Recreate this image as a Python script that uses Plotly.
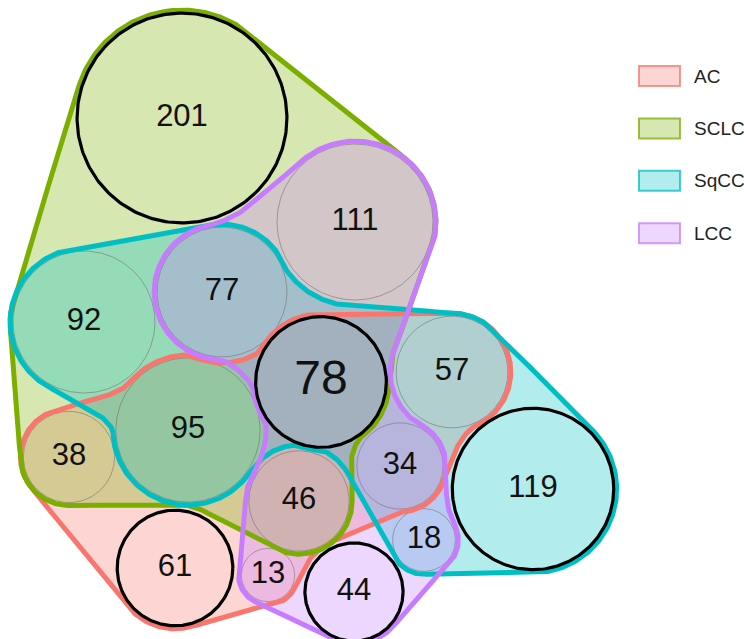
import numpy as np
import plotly.graph_objects as go

# ---------------------------------------------------------------- data
SETS = ["AC", "SCLC", "SqCC", "LCC"]

# every region of the four-set diagram: the sets it belongs to and its size
REGION_SETS = [
    "AC", "SCLC", "SqCC", "LCC",
    "AC SCLC", "AC SqCC", "AC LCC", "SCLC SqCC", "SCLC LCC", "SqCC LCC",
    "AC SCLC SqCC", "AC SCLC LCC", "AC SqCC LCC", "SCLC SqCC LCC",
    "AC SCLC SqCC LCC",
]
REGION_COUNTS = [61, 201, 119, 44, 38, 57, 13, 92, 111, 18, 95, 46, 34, 77, 78]

# ---------------------------------------------------------------- layout
# bubble centres on the canvas (pixels, y pointing down)
BUBBLE_X = [175, 182, 533, 354, 69, 452, 268, 84, 355, 424, 188, 299, 400, 222, 321]
BUBBLE_Y = [568, 118, 489, 592, 457, 372, 575, 322, 222, 540, 430, 501, 466, 292, 382]

W, H = 744, 639
RADIUS_SCALE = 7.4          # bubble radius = scale * sqrt(count)
MEMBER_PAD = 3.0            # outline distance outside member bubbles
OUTSIDER_PAD = 6.0          # outline distance outside excluded bubbles
SET_COLORS = {"AC": "#F8766D", "SCLC": "#7CAE00", "SqCC": "#00BFC4", "LCC": "#C77CFF"}
FILL_ALPHA = 0.3
FONT = "Arial, Liberation Sans, sans-serif"


def rgba(hex_color, a):
    h = hex_color.lstrip("#")
    r, g, b = int(h[0:2], 16), int(h[2:4], 16), int(h[4:6], 16)
    return f"rgba({r},{g},{b},{a})"


counts = np.array(REGION_COUNTS, dtype=float)
radii = RADIUS_SCALE * np.sqrt(counts)
cx = np.array(BUBBLE_X, dtype=float)
cy = np.array(BUBBLE_Y, dtype=float)
members = [s.split() for s in REGION_SETS]
n_regions = len(REGION_COUNTS)

# ---------------------------------------------------------------- set outlines
# 1) a first outline per set: convex hull of its bubbles with the other
#    bubbles carved out; 2) that outline is pulled taut like a rope that may
#    not cross any bubble.
STEP = 2.0
gx = np.arange(-40.0, 720.0, STEP)
gy = np.arange(-40.0, 720.0, STEP)
GX, GY = np.meshgrid(gx, gy)
circle_sdf = [np.hypot(GX - cx[i], GY - cy[i]) - radii[i] for i in range(n_regions)]


def smin(a, b, k):
    h = np.clip(0.5 + 0.5 * (b - a) / k, 0.0, 1.0)
    return b * (1 - h) + a * h - k * h * (1 - h)


def smax(a, b, k):
    return -smin(-a, -b, k)


def convex_hull(points):
    pts = sorted(set(points))

    def cross(o, a, b):
        return (a[0] - o[0]) * (b[1] - o[1]) - (a[1] - o[1]) * (b[0] - o[0])

    lower, upper = [], []
    for p in pts:
        while len(lower) >= 2 and cross(lower[-2], lower[-1], p) <= 0:
            lower.pop()
        lower.append(p)
    for p in reversed(pts):
        while len(upper) >= 2 and cross(upper[-2], upper[-1], p) <= 0:
            upper.pop()
        upper.append(p)
    return lower[:-1] + upper[:-1]


def hull_sdf(poly):
    dmin = np.full(GX.shape, np.inf)
    inside = np.ones(GX.shape, dtype=bool)
    m = len(poly)
    for k in range(m):
        ax, ay = poly[k]
        bx, by = poly[(k + 1) % m]
        ex, ey = bx - ax, by - ay
        px, py = GX - ax, GY - ay
        t = np.clip((px * ex + py * ey) / max(ex * ex + ey * ey, 1e-9), 0.0, 1.0)
        dmin = np.minimum(dmin, np.hypot(px - t * ex, py - t * ey))
        inside &= (ex * py - ey * px) >= 0
    return np.where(inside, -dmin, dmin)


def initial_field(mem, non):
    th = np.linspace(0, 2 * np.pi, 144, endpoint=False)
    pts = []
    for i in mem:
        rr = radii[i] + MEMBER_PAD
        pts += [(float(x), float(y)) for x, y in zip(cx[i] + rr * np.cos(th), cy[i] + rr * np.sin(th))]
    d_hull = hull_sdf(convex_hull(pts))
    d_mem = np.min([circle_sdf[i] for i in mem], axis=0) - MEMBER_PAD
    d_non = np.min([circle_sdf[i] for i in non], axis=0) - OUTSIDER_PAD
    return smin(smax(d_hull, -d_non, 4.0), d_mem, 6.0)


def contour_loops(F):
    ins = F < 0

    def edge_point(key):
        kind, i, j = key
        if kind == "h":
            f0, f1 = F[j, i], F[j, i + 1]
            t = f0 / (f0 - f1)
            return gx[i] + t * (gx[i + 1] - gx[i]), gy[j]
        f0, f1 = F[j, i], F[j + 1, i]
        t = f0 / (f0 - f1)
        return gx[i], gy[j] + t * (gy[j + 1] - gy[j])

    code = (ins[:-1, :-1].astype(int) | (ins[:-1, 1:] << 1)
            | (ins[1:, 1:] << 2) | (ins[1:, :-1] << 3))
    js, iis = np.nonzero((code != 0) & (code != 15))
    segs, adj = [], {}
    for j, i in zip(js.tolist(), iis.tolist()):
        bl, br, tr, tl = ins[j, i], ins[j, i + 1], ins[j + 1, i + 1], ins[j + 1, i]
        eb, et = ("h", i, j), ("h", i, j + 1)
        el, er = ("v", i, j), ("v", i + 1, j)
        crossing = [e for e, c in ((eb, bl != br), (er, br != tr), (et, tr != tl), (el, tl != bl)) if c]
        if len(crossing) == 2:
            pairs = [tuple(crossing)]
        else:
            centre_in = (F[j, i] + F[j, i + 1] + F[j + 1, i + 1] + F[j + 1, i]) / 4 < 0
            corners = [(bl, eb, el), (br, eb, er), (tr, er, et), (tl, et, el)]
            pairs = [(a, b) for flag, a, b in corners if flag != centre_in]
        for a, b in pairs:
            idx = len(segs)
            segs.append((a, b))
            adj.setdefault(a, []).append(idx)
            adj.setdefault(b, []).append(idx)
    used = [False] * len(segs)
    loops = []
    for s0 in range(len(segs)):
        if used[s0]:
            continue
        used[s0] = True
        start, cur = segs[s0]
        keys = [start, cur]
        while cur != start:
            nxt = next((s for s in adj[cur] if not used[s]), None)
            if nxt is None:
                break
            used[nxt] = True
            a, b = segs[nxt]
            cur = b if a == cur else a
            keys.append(cur)
        pts = np.array([edge_point(k) for k in keys[:-1]])
        area = 0.5 * abs(np.dot(pts[:, 0], np.roll(pts[:, 1], -1)) - np.dot(np.roll(pts[:, 0], -1), pts[:, 1]))
        loops.append((area, pts))
    loops.sort(key=lambda t: -t[0])
    return loops[0][1]


def resample(P, spacing):
    Q = np.vstack([P, P[:1]])
    seg = np.hypot(*np.diff(Q, axis=0).T)
    s = np.concatenate([[0.0], np.cumsum(seg)])
    n = max(int(s[-1] / spacing), 24)
    t = np.linspace(0.0, s[-1], n, endpoint=False)
    return np.stack([np.interp(t, s, Q[:, 0]), np.interp(t, s, Q[:, 1])], axis=1)


def pull_taut(P, obst_x, obst_y, obst_r, spacing, iters):
    P = resample(P, spacing)
    for it in range(iters):
        avg = 0.5 * (np.roll(P, 1, axis=0) + np.roll(P, -1, axis=0))
        P = P + 0.5 * (avg - P)
        for ox, oy, orad in zip(obst_x, obst_y, obst_r):
            dx = P[:, 0] - ox
            dy = P[:, 1] - oy
            d = np.hypot(dx, dy)
            hit = d < orad
            if hit.any():
                f = orad / np.maximum(d[hit], 1e-6)
                P[hit, 0] = ox + dx[hit] * f
                P[hit, 1] = oy + dy[hit] * f
        if it % 5 == 4:
            P = resample(P, spacing)
    return P


def chaikin(P, rounds=2):
    for _ in range(rounds):
        Q = np.roll(P, -1, axis=0)
        P = np.stack([0.75 * P + 0.25 * Q, 0.25 * P + 0.75 * Q], axis=1).reshape(-1, 2)
    return P


outlines = {}
for s in SETS:
    mem = [i for i in range(n_regions) if s in members[i]]
    non = [i for i in range(n_regions) if s not in members[i]]
    start = contour_loops(initial_field(mem, non))
    obst_r = np.array([radii[i] + (MEMBER_PAD if i in mem else OUTSIDER_PAD) for i in range(n_regions)])
    rope = pull_taut(start, cx, cy, obst_r, 8.0, 900)
    rope = pull_taut(rope, cx, cy, obst_r, 3.0, 700)
    rope = chaikin(rope, 2)
    xs = rope[:, 0].tolist() + [rope[0, 0]]
    ys = rope[:, 1].tolist() + [rope[0, 1]]
    outlines[s] = (xs, ys)

# ---------------------------------------------------------------- figure
fig = go.Figure()

# translucent set areas
for s in SETS:
    xs, ys = outlines[s]
    fig.add_trace(go.Scatter(x=xs, y=ys, mode="lines", fill="toself",
                             fillcolor=rgba(SET_COLORS[s], FILL_ALPHA),
                             line=dict(width=0), hoverinfo="skip", showlegend=False))

theta = np.linspace(0, 2 * np.pi, 241)
n_sets_of = [len(m) for m in members]
emphasised = [k == 1 or k == len(SETS) for k in n_sets_of]

# thin outlines of the shared bubbles
for i in range(n_regions):
    if not emphasised[i]:
        fig.add_trace(go.Scatter(x=cx[i] + radii[i] * np.cos(theta), y=cy[i] + radii[i] * np.sin(theta),
                                 mode="lines", line=dict(color="rgba(110,110,110,0.55)", width=1),
                                 hoverinfo="skip", showlegend=False))

# set outlines
for s in SETS:
    xs, ys = outlines[s]
    fig.add_trace(go.Scatter(x=xs, y=ys, mode="lines",
                             line=dict(color=SET_COLORS[s], width=5),
                             hoverinfo="skip", showlegend=False))

# bold outlines for exclusive regions and the all-set core
for i in range(n_regions):
    if emphasised[i]:
        fig.add_trace(go.Scatter(x=cx[i] + radii[i] * np.cos(theta), y=cy[i] + radii[i] * np.sin(theta),
                                 mode="lines", line=dict(color="black", width=3.2),
                                 hoverinfo="skip", showlegend=False))

# region counts
font_sizes = [48 if k == len(SETS) else 31 for k in n_sets_of]
fig.add_trace(go.Scatter(x=cx, y=cy, mode="text", text=[str(v) for v in REGION_COUNTS],
                         textposition="middle center",
                         textfont=dict(family=FONT, size=font_sizes, color="#111111"),
                         hoverinfo="skip", showlegend=False))

# legend
shapes, annotations = [], []
for k, s in enumerate(SETS):
    yc = 76 + 52.4 * k
    shapes.append(dict(type="rect", xref="x", yref="y", x0=639, x1=680, y0=yc - 10, y1=yc + 10,
                       fillcolor=rgba(SET_COLORS[s], FILL_ALPHA),
                       line=dict(color=rgba(SET_COLORS[s], 0.75), width=2)))
    annotations.append(dict(x=692, y=yc, xref="x", yref="y", text=s, showarrow=False,
                            xanchor="left", yanchor="middle",
                            font=dict(family=FONT, size=19, color="#222222")))

fig.update_layout(
    width=W, height=H, margin=dict(l=0, r=0, t=0, b=0),
    paper_bgcolor="white", plot_bgcolor="white",
    xaxis=dict(range=[0, W], visible=False, fixedrange=True),
    yaxis=dict(range=[H, 0], visible=False, fixedrange=True),
    shapes=shapes, annotations=annotations, showlegend=False,
)

fig.write_html("out.html")
